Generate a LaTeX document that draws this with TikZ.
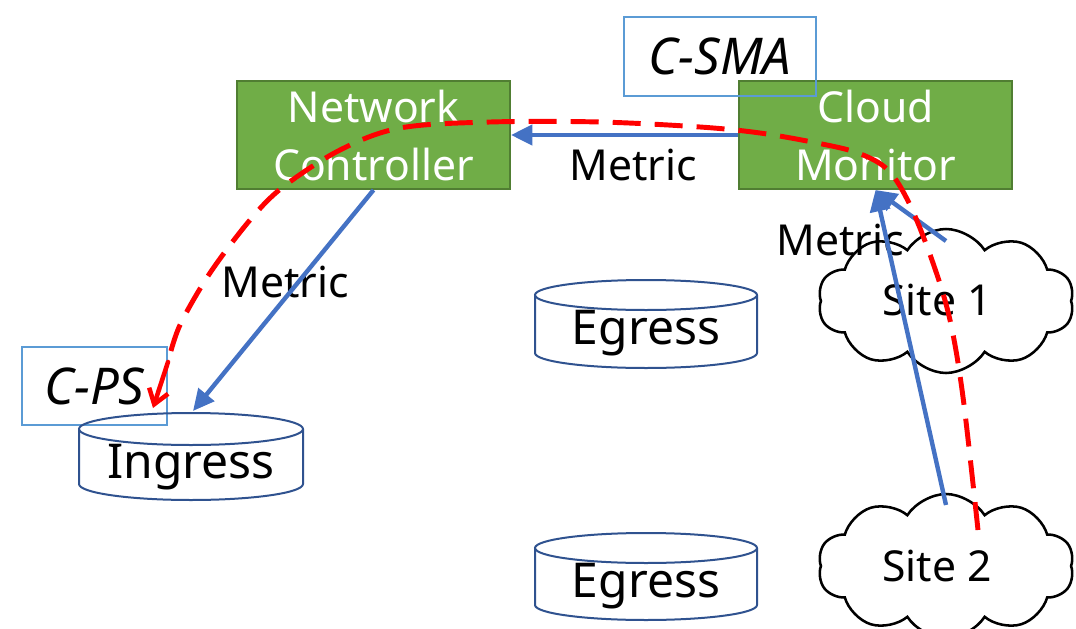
\documentclass[tikz,border=0pt]{standalone}
\usepackage{fontspec}
\setmainfont{Noto Sans}
\usetikzlibrary{arrows.meta,shapes.symbols}
\definecolor{boxgreen}{HTML}{70AD47}
\definecolor{boxedge}{HTML}{507E32}
\definecolor{arrowblue}{HTML}{4472C4}
\definecolor{lightblue}{HTML}{5B9BD5}
\definecolor{cylblue}{HTML}{2F528F}
\definecolor{dashred}{HTML}{FF0000}
\tikzset{
  greenbox/.style={draw=boxedge, line width=1.5pt, fill=boxgreen, text=white,
    minimum width=204.75pt, minimum height=81pt, inner sep=0pt, align=center,
    font=\fontsize{32}{43.5}\selectfont},
  tagbox/.style={draw=lightblue, line width=1.5pt, inner sep=0pt,
    font=\fontsize{38}{44}\selectfont\itshape},
  lbl/.style={inner sep=0pt, font=\fontsize{32}{40}\selectfont},
  cyllbl/.style={inner sep=0pt, font=\fontsize{36}{44}\selectfont},
  sitecloud/.style={cloud, cloud puffs=10, cloud puff arc=115, cloud ignores aspect,
    draw=black, line width=1.9pt, fill=white, minimum width=192pt, minimum height=108pt,
    inner sep=0pt},
  cylline/.style={draw=cylblue, line width=1.5pt},
  bluearrow/.style={draw=arrowblue, line width=3.3pt, -{Triangle[length=16pt,width=15pt]}},
  reddash/.style={draw=dashred, line width=3.7pt, dash pattern=on 21pt off 10.5pt},
  redtip/.style={draw=dashred, line width=3.4pt, line cap=round,
    -{Straight Barb[angle=70:13pt,line width=3.4pt]}},
}
\begin{document}
\begin{tikzpicture}[x=0.75pt,y=-0.75pt]
\useasboundingbox (0,0) rectangle (1076,629);

% green boxes
\node[greenbox] (nc) at (373.5,135) {Network\\Controller};
\node[greenbox] (cm) at (875.5,135) {Cloud\\Monitor};

% tag boxes
\node[tagbox, minimum width=144pt, minimum height=59.25pt] (csma) at (720,56.5) {C-SMA};
\node[tagbox, minimum width=108.75pt, minimum height=58.5pt] (cps) at (94.5,386) {C-PS};

% cylinders
\draw[cylline] (191,429) ellipse [x radius=112, y radius=16];
\draw[cylline] (79,429) -- (79,484) arc[start angle=180, end angle=0, x radius=112, y radius=16] -- (303,429);
\node[cyllbl] (ingress) at (191,467) {Ingress};

\draw[cylline] (646,295) ellipse [x radius=111, y radius=15];
\draw[cylline] (535,295) -- (535,353) arc[start angle=180, end angle=0, x radius=111, y radius=15] -- (757,295);
\node[cyllbl] (egress1) at (646,333) {Egress};

\draw[cylline] (646,548) ellipse [x radius=111, y radius=15];
\draw[cylline] (535,548) -- (535,605) arc[start angle=180, end angle=0, x radius=111, y radius=15] -- (757,548);
\node[cyllbl] (egress2) at (646,586) {Egress};

% clouds
\node[sitecloud] (site1) at (946,301) {};
\node[lbl] (site1t) at (937,300) {Site 1};
\node[sitecloud] (site2) at (946,566) {};
\node[lbl] (site2t) at (937,566) {Site 2};

% labels
\node[lbl] (m1) at (633,165) {Metric};
\node[lbl] (m2) at (285,282) {Metric};
\node[lbl] (m3) at (840,240) {Metric};

% coordinates
\coordinate (ingtop) at (193,411);
\coordinate (s1top) at (946,241);
\coordinate (s2top) at (946,505);
\coordinate (redstart) at (978,530);
\coordinate (redpre) at (168,362);
\coordinate (redend) at (153,408);

% blue arrows
\draw[bluearrow] (cm.west) -- (nc.east);
\draw[bluearrow] (nc.south) -- (ingtop);
\draw[bluearrow] (s1top) -- (cm.south);
\draw[bluearrow] (s2top) -- (cm.south);

% red dashed path
\draw[reddash] plot[smooth, tension=0.55] coordinates {(redstart) (963,397) (950,320) (933,263) (910,205) (888,170) (858,153) (817,143) (760,133) (700,127) (600,122) (490,122) (400,128) (340,150) (283,187) (250,220) (210,273) (180,325) (redpre)};
\draw[redtip] (redpre) -- (redend);
\end{tikzpicture}
\end{document}
